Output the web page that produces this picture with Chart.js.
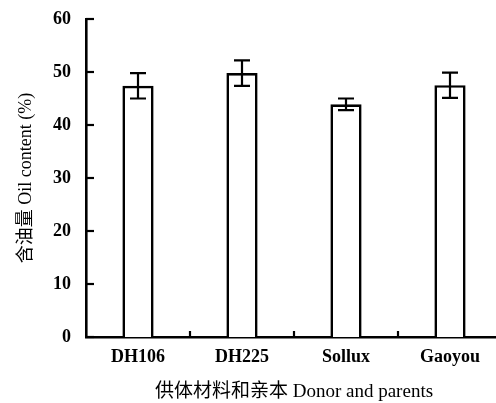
<!DOCTYPE html>
<html>
<head>
<meta charset="utf-8">
<script src="https://cdn.jsdelivr.net/npm/chart.js@4"></script>
<style>
  html, body { margin: 0; padding: 0; background: #fff; overflow: hidden; }
  #wrap { width: 502px; height: 403px; }
</style>
</head>
<body>
<div id="wrap"><canvas id="oil-chart"></canvas></div>
<script>
var categories = ['DH106', 'DH225', 'Sollux', 'Gaoyou'];
var oilMeans = [47.4, 49.8, 43.9, 47.5];
var oilErrors = [2.4, 2.4, 1.1, 2.4];
var yTicks = [0, 10, 20, 30, 40, 50, 60];

var serif = '"Liberation Serif", "Times New Roman", "Noto Sans CJK SC", serif';

// error bars + inside tick marks, drawn from the chart's own scales
var errorBars = {
  id: 'errorBars',
  afterDatasetsDraw: function(chart) {
    var ctx = chart.ctx;
    var y = chart.scales.y;
    var x = chart.scales.x;
    var meta = chart.getDatasetMeta(0);
    ctx.save();
    ctx.strokeStyle = '#000';
    ctx.lineWidth = 2.2;
    meta.data.forEach(function(bar, i) {
      var top = y.getPixelForValue(oilMeans[i] + oilErrors[i]);
      var bot = y.getPixelForValue(oilMeans[i] - oilErrors[i]);
      ctx.beginPath();
      ctx.moveTo(bar.x, top); ctx.lineTo(bar.x, bot);
      ctx.moveTo(bar.x - 8, top); ctx.lineTo(bar.x + 8, top);
      ctx.moveTo(bar.x - 8, bot); ctx.lineTo(bar.x + 8, bot);
      ctx.stroke();
    });
    // y ticks point into the plot
    yTicks.forEach(function(v) {
      var py = y.getPixelForValue(v);
      ctx.beginPath();
      ctx.moveTo(x.left, py); ctx.lineTo(x.left + 8, py);
      ctx.stroke();
    });
    // x ticks between categories
    for (var i = 0; i < categories.length - 1; i++) {
      var px = (x.getPixelForTick(i) + x.getPixelForTick(i + 1)) / 2;
      ctx.beginPath();
      ctx.moveTo(px, y.bottom); ctx.lineTo(px, y.bottom - 6);
      ctx.stroke();
    }
    ctx.restore();
  }
};

var ctx = document.getElementById('oil-chart').getContext('2d');
var chart = new Chart(ctx, {
  type: 'bar',
  data: {
    labels: categories,
    datasets: [{
      data: oilMeans,
      backgroundColor: '#fff',
      borderColor: '#000',
      borderWidth: 2.6,
      barPercentage: 0.3,
      categoryPercentage: 1
    }]
  },
  options: {
    responsive: true,
    maintainAspectRatio: false,
    animation: false,
    layout: { padding: { top: 19, left: 0, right: 0, bottom: 0 } },
    plugins: { legend: { display: false }, tooltip: { enabled: false } },
    scales: {
      x: {
        grid: { display: false },
        border: { display: true, color: '#000', width: 2.6 },
        ticks: { color: '#000', padding: 2, font: { family: serif, size: 18, weight: 'bold' } },
        title: {
          display: true,
          text: '供体材料和亲本 Donor and parents',
          color: '#000',
          font: { family: serif, size: 19 },
          padding: { top: 0, bottom: 0 }
        },
        afterFit: function(s) { s.height = 66; }
      },
      y: {
        min: 0,
        max: 60,
        grid: { display: false },
        border: { display: true, color: '#000', width: 2.6 },
        ticks: {
          stepSize: 10,
          color: '#000',
          padding: 7,
          font: { family: serif, size: 18, weight: 'bold' }
        },
        title: {
          display: true,
          text: '含油量 Oil content (%)',
          color: '#000',
          font: { family: serif, size: 18 },
          padding: { top: 15, bottom: 14 }
        },
        afterFit: function(s) { s.width = 86; }
      }
    }
  },
  plugins: [errorBars]
});
</script>
</body>
</html>
